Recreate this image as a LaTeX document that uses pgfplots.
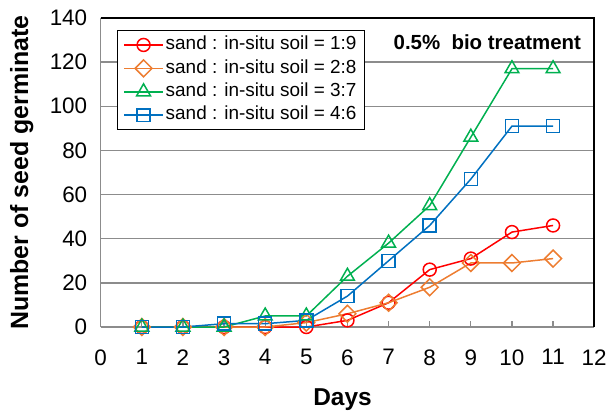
\documentclass[border=0pt]{standalone}
\usepackage{fontspec}
\setmainfont{Liberation Sans}
\usepackage{pgfplots}
\pgfplotsset{compat=1.18}
\definecolor{cRed}{HTML}{FF0000}
\definecolor{cOrange}{HTML}{ED7D31}
\definecolor{cGreen}{HTML}{00B050}
\definecolor{cBlue}{HTML}{0070C0}
\definecolor{cGrid}{HTML}{8C8C8C}
\begin{document}
\begin{tikzpicture}
\begin{axis}[
  scale only axis,
  width=495pt, height=310pt,
  xmin=0, xmax=12, ymin=0, ymax=140,
  xtick={0,1,...,12}, ytick={0,20,...,140},
  axis x line*=bottom, axis y line*=left,
  axis line style={cGrid, line width=1.5pt},
  x axis line style={-}, y axis line style={-},
  ymajorgrids, major grid style={cGrid, line width=1.5pt},
  xtick style={cGrid, line width=1.2pt}, major tick length=6pt,
  ytick style={draw=none},
  tick align=inside,
  /pgf/number format/assume math mode=true,
  tick label style={font=\fontsize{22.5}{26}\selectfont},
  xticklabel style={yshift=-19pt},
  yticklabel style={xshift=-10pt},
  xlabel={\textbf{Days}},
  ylabel={\textbf{Number of seed germinate}},
  xlabel style={font=\fontsize{24.5}{28}\selectfont, at={(axis description cs:0.49,-0.255)}, anchor=base},
  ylabel style={font=\fontsize{25}{28}\selectfont, at={(axis description cs:-0.16,0.5)}, anchor=center},
  clip=false,
  legend style={at={(axis description cs:0.0323,0.961)}, anchor=north west,
    draw=black, line width=1.5pt, inner xsep=6pt, inner ysep=3pt,
    font=\fontsize{19}{22}\selectfont, row sep=1pt,
    nodes={inner sep=2pt, text height=14pt, text depth=4.5pt}},
  legend cell align=left,
  legend image code/.code={\draw[mark repeat=2,mark phase=2,#1] plot coordinates {(0pt,0pt) (19.5pt,0pt) (39pt,0pt)};},
  every axis plot/.append style={line width=1.5pt, mark options={solid, line width=1.5pt, fill=none}},
]
\addplot[cRed, mark=o, mark size=6.5pt] coordinates {(1,0)(2,0)(3,0)(4,0)(5,0)(6,3)(7,11)(8,26)(9,31)(10,43)(11,46)};
\addlegendentry{sand : in-situ soil = 1:9}
\addplot[cOrange, mark=square, mark size=6pt, mark options={rotate=45}] coordinates {(1,0)(2,0)(3,0)(4,0)(5,2)(6,6)(7,11)(8,18)(9,29)(10,29)(11,31)};
\addlegendentry{sand : in-situ soil = 2:8}
\addplot[cGreen, mark=triangle, mark size=8pt] coordinates {(1,0)(2,0)(3,0)(4,5)(5,5)(6,23)(7,38)(8,55)(9,86)(10,117)(11,117)};
\addlegendentry{sand : in-situ soil = 3:7}
\addplot[cBlue, mark=square, mark size=6.5pt] coordinates {(1,0)(2,0)(3,1.5)(4,1.5)(5,3)(6,14)(7,30)(8,46)(9,67)(10,91)(11,91)};
\addlegendentry{sand : in-situ soil = 4:6}
\draw[black, line width=1.5pt] (rel axis cs:0,1) -- (rel axis cs:1,1) -- (rel axis cs:1,0);
\node[anchor=base east, inner sep=0pt, font=\fontsize{20.5}{24}\selectfont\bfseries] at ([xshift=-13pt, yshift=-32pt]rel axis cs:1,1) {0.5\%\ \ bio treatment};
\coordinate (SW) at (rel axis cs:0,0);
\end{axis}
\path (SW) ++(-101pt,-87pt) rectangle ++(610pt,415pt);
\end{tikzpicture}
\end{document}
